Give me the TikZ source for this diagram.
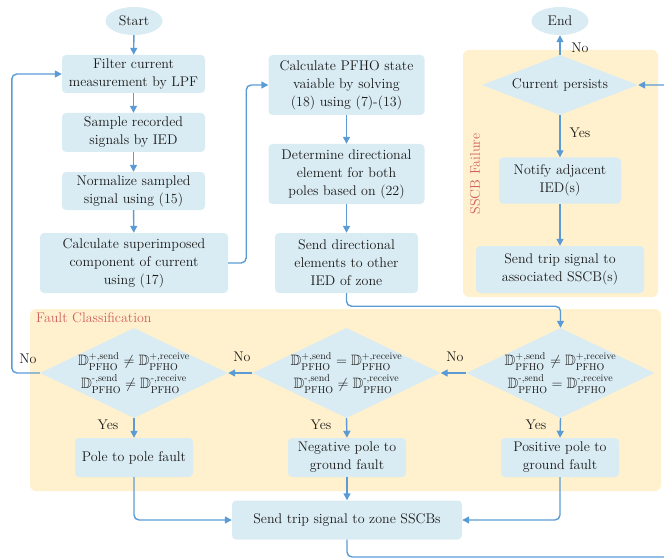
\documentclass[tikz,border=0pt]{standalone}
\usepackage{amsmath,amssymb}
\usetikzlibrary{shapes.geometric,arrows.meta}
\definecolor{boxblue}{HTML}{DAECF3}
\definecolor{bgyellow}{HTML}{FFF1CD}
\definecolor{linkblue}{HTML}{5B9BD5}
\definecolor{lblred}{HTML}{D0625C}
\definecolor{txt}{HTML}{1A1A1A}
\newcommand\myfs{\fontsize{14}{18}\selectfont}
\newcommand\scr{\fontsize{10}{11}\selectfont}
\newcommand\DD[2]{\mathbb{D}^{\hbox{\scr#1,#2}}_{\hbox{\scr PFHO}}}
\newcommand\cond[2]{$\begin{array}{c}\DD{+}{send} #1 \DD{+}{receive}\\[4pt]\DD{-}{send} #2 \DD{-}{receive}\end{array}$}
\tikzset{
  box/.style={rectangle, rounded corners=4pt, fill=boxblue, align=center, inner sep=0pt, font=\myfs, text=txt},
  term/.style={ellipse, fill=boxblue, minimum width=57pt, minimum height=28pt, inner sep=0pt, font=\myfs, text=txt},
  dia/.style={diamond, fill=boxblue, inner sep=-6pt, text=txt, font=\myfs},
  cdia/.style={dia, minimum width=188pt, minimum height=90pt, aspect=2.09, font=\fontsize{15}{17}\selectfont},
  link/.style={draw=linkblue, line width=1.4pt, -{Triangle[length=7pt,width=7pt]}, rounded corners=5pt},
  region/.style={fill=bgyellow, rounded corners=6pt},
  lbl/.style={font=\myfs, text=txt, inner sep=0pt},
  reglbl/.style={font=\fontsize{14}{16}\selectfont, text=lblred, inner sep=0pt},
}
\begin{document}
\begin{tikzpicture}[x=1pt,y=-1pt]
\useasboundingbox (0,0) rectangle (664,559);
% regions
\fill[region] (30,309) rectangle (661,491);
\fill[region] (463,50) rectangle (658,297);
\node[reglbl, anchor=west] (fclbl) at (36,318) {Fault Classification};
\node[reglbl, rotate=90] (sflbl) at (475,174) {SSCB Failure};
% left column
\node[term] (start) at (134,21) {Start};
\node[box, minimum width=143pt, minimum height=38pt] (filter) at (133.5,74) {Filter current\\measurement by LPF};
\node[box, minimum width=143pt, minimum height=39pt] (sample) at (133.5,132.5) {Sample recorded\\signals by IED};
\node[box, minimum width=143pt, minimum height=38pt] (norm) at (133.5,191) {Normalize sampled\\signal using (15)};
\node[box, minimum width=188pt, minimum height=60pt] (calc) at (134,263) {Calculate superimposed\\component of current\\using (17)};
% middle column
\node[box, minimum width=156pt, minimum height=60pt] (pfho) at (346.5,85) {Calculate PFHO state\\vaiable by solving\\(18) using (7)-(13)};
\node[box, minimum width=156pt, minimum height=60pt] (det) at (346.5,174) {Determine directional\\element for both\\poles based on (22)};
\node[box, minimum width=143pt, minimum height=60pt] (sdir) at (346.5,263) {Send directional\\elements to other\\IED of zone};
% right column
\node[term] (end) at (560,21) {End};
\node[dia, minimum width=156pt, minimum height=60pt, aspect=2.6] (cp) at (560,85) {Current persists};
\node[box, minimum width=122pt, minimum height=46pt] (notify) at (560,180.5) {Notify adjacent\\IED(s)};
\node[box, minimum width=168pt, minimum height=47pt] (assoc) at (560,269.5) {Send trip signal to\\associated SSCB(s)};
% fault classification
\node[cdia] (d1) at (134,373) {\cond{\neq}{\neq}};
\node[cdia] (d2) at (346.5,373) {\cond{=}{\neq}};
\node[cdia] (d3) at (560.5,373) {\cond{\neq}{=}};
\node[box, minimum width=118pt, minimum height=39pt] (p2p) at (134,457.5) {Pole to pole fault};
\node[box, minimum width=118pt, minimum height=39pt] (neg) at (347,457.5) {Negative pole to\\ground fault};
\node[box, minimum width=118pt, minimum height=39pt] (pos) at (560,457.5) {Positive pole to\\ground fault};
\node[box, minimum width=230pt, minimum height=39pt] (zone) at (347,520) {Send trip signal to zone SSCBs};
\coordinate (rt) at (672,557);
% connectors
\draw[link] (start) -- (filter);
\draw[link] (filter) -- (sample);
\draw[link] (sample) -- (norm);
\draw[link] (norm) -- (calc);
\draw[link] (calc.east) -- ++(18,0) |- (pfho.west);
\draw[link] (pfho) -- (det);
\draw[link] (det) -- (sdir);
\draw[link] (sdir.south) -- ++(0,13) -| (d3.north);
\draw[link] (d3.west) -- (d2.east);
\draw[link] (d2.west) -- (d1.east);
\draw[link] (d1.west) -- ++(-28,0) |- (filter.west);
\draw[link] (d1.south) -- (p2p.north);
\draw[link] (d2.south) -- (neg.north);
\draw[link] (d3.south) -- (pos.north);
\draw[link] (p2p.south) |- (zone.west);
\draw[link] (pos.south) |- (zone.east);
\draw[link] (neg.south) -- (zone.north);
\draw[link] (zone.south) |- (rt) |- (cp.east);
\draw[link] (cp.north) -- (end.south);
\draw[link] (cp.south) -- (notify.north);
\draw[link] (notify.south) -- (assoc.north);
% labels
\node[lbl] (no0) at (580,48) {No};
\node[lbl] (yes0) at (580,133) {Yes};
\node[lbl] (no1) at (28,359) {No};
\node[lbl] (no2) at (242,357) {No};
\node[lbl] (no3) at (455,357) {No};
\node[lbl] (yes1) at (108,425) {Yes};
\node[lbl] (yes2) at (321,425) {Yes};
\node[lbl] (yes3) at (536,425) {Yes};
\end{tikzpicture}
\end{document}
